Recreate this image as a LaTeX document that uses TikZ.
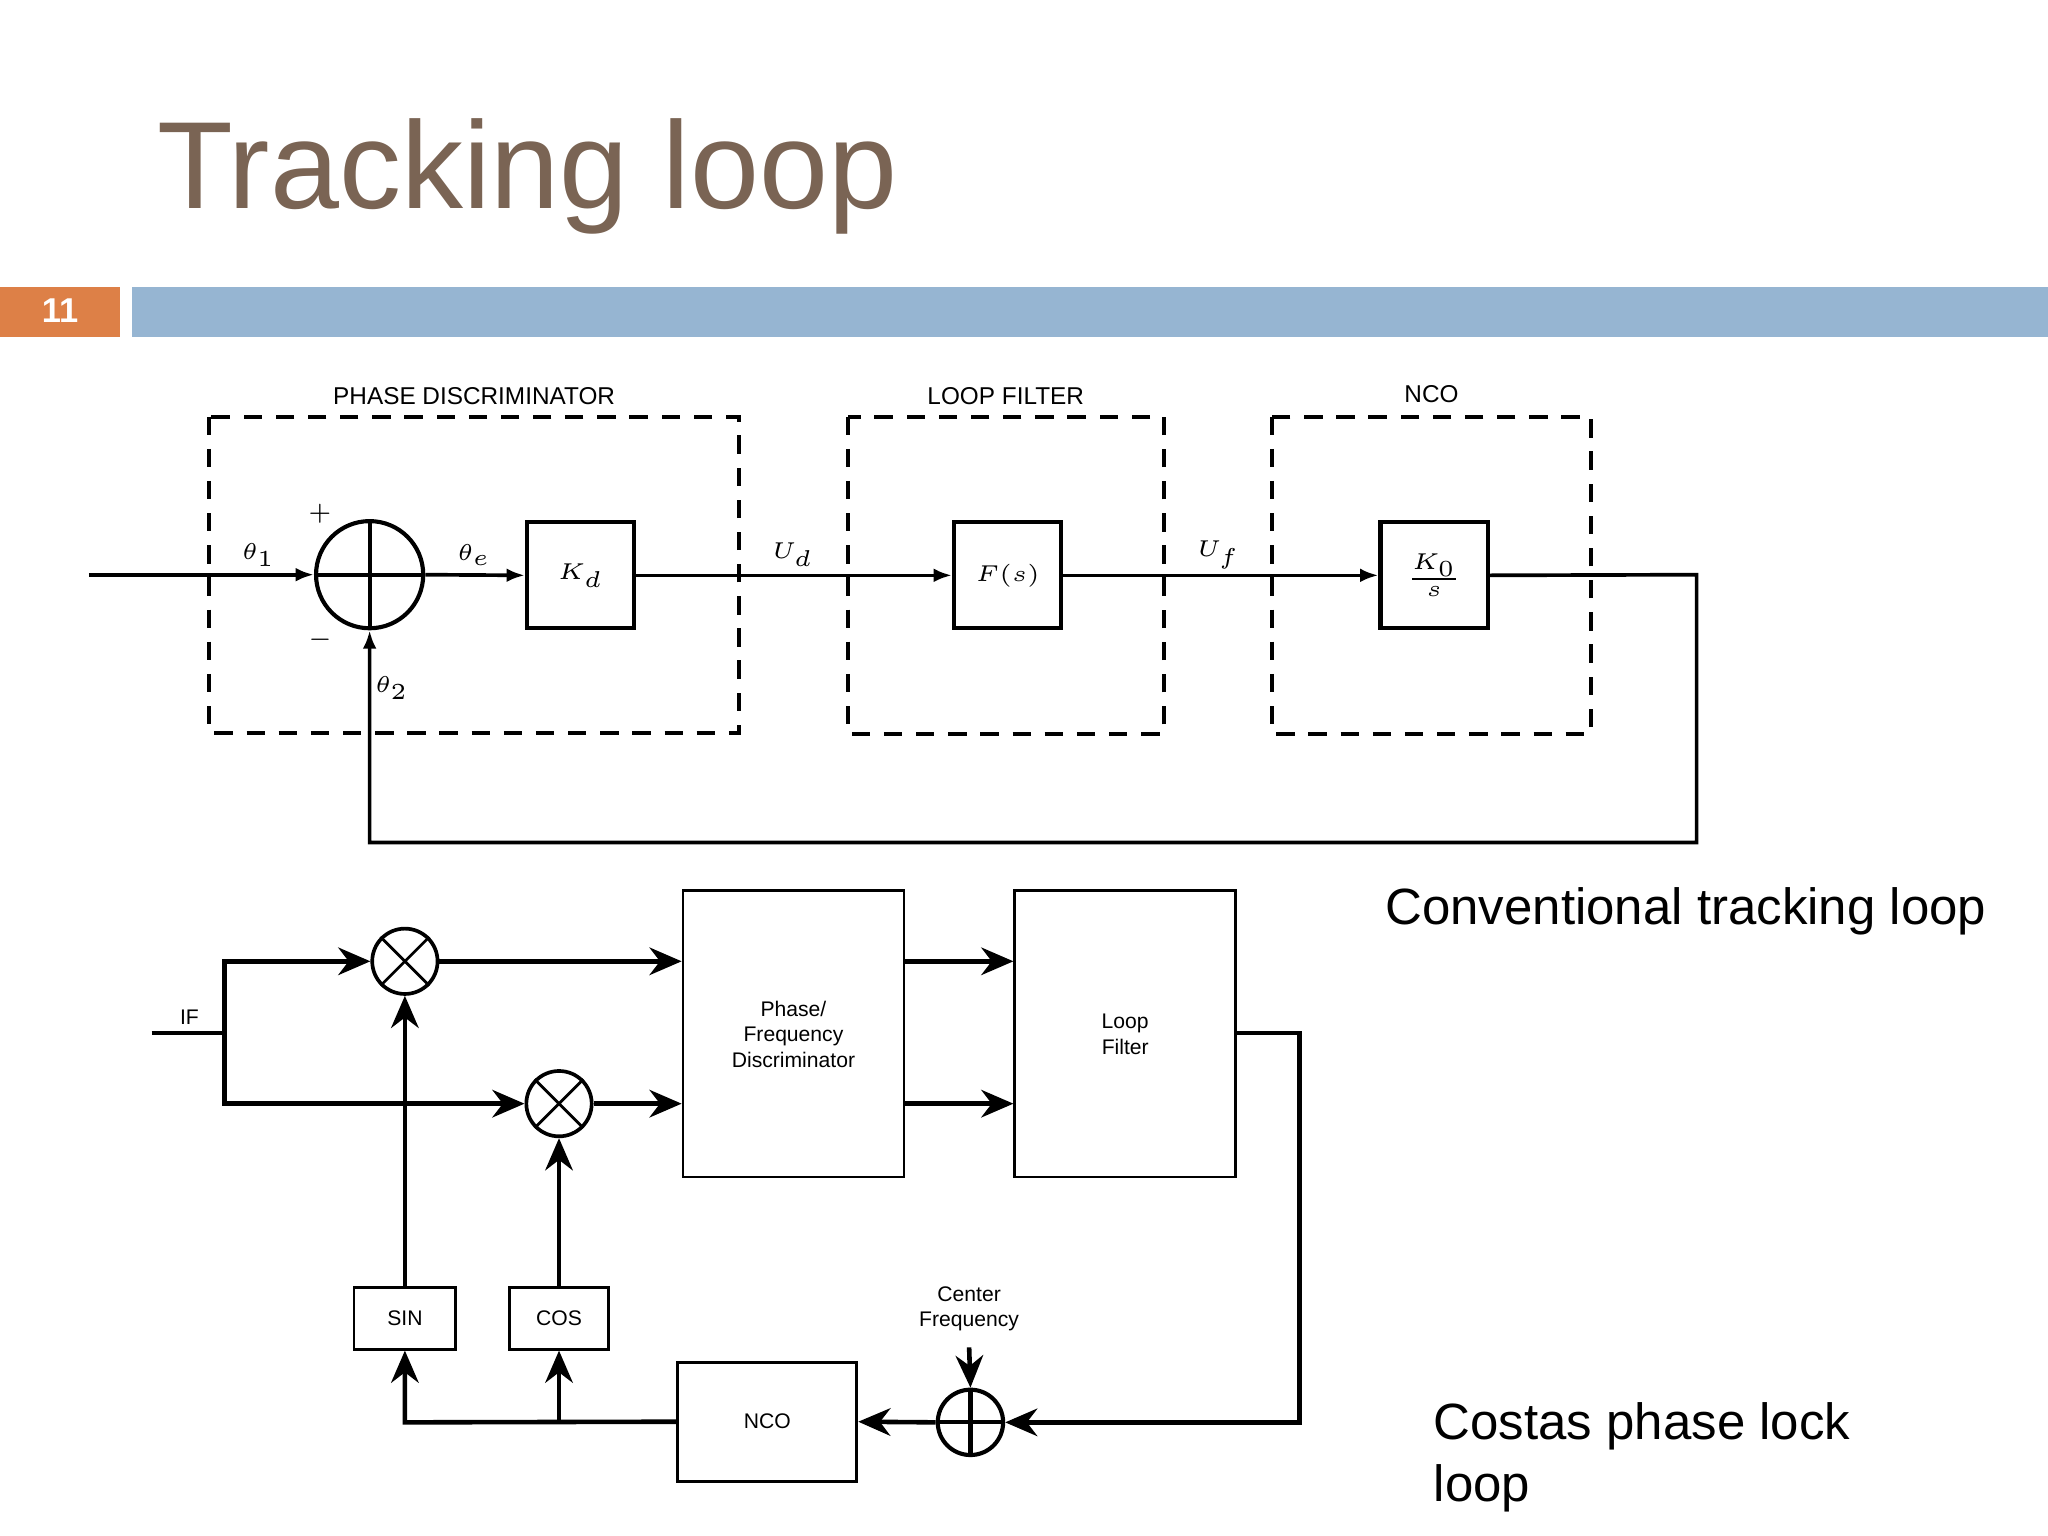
\documentclass[tikz,border=0pt]{standalone}
\usepackage{fontspec}
\setmainfont{Liberation Sans}
\usetikzlibrary{arrows.meta}
\definecolor{titlec}{RGB}{122,100,84}
\definecolor{barblue}{RGB}{150,181,210}
\definecolor{barorange}{RGB}{221,128,71}
\begin{document}
\begin{tikzpicture}[x=0.01cm,y=-0.01cm,
  sm/.style={font=\fontsize{5.3}{6.2}\selectfont},
  ss/.style={font=\fontsize{4.6}{5.6}\selectfont},
  mt/.style={font=\fontsize{4.8}{5.5}\selectfont},
  blk/.style={draw,line width=0.9pt,minimum width=0.82cm,minimum height=0.81cm,inner sep=0,font=\fontsize{5.5}{6}\selectfont},
  dbox/.style={draw,line width=0.9pt,dash pattern=on 4pt off 3pt},
  ln/.style={line width=0.8pt},
  ar/.style={ln,-{Latex[length=4pt,width=3pt]}},
  br/.style={line width=1pt,-{Stealth[length=7pt,width=6pt]}},
  big/.style={font=\fontsize{11.1}{13.5}\selectfont,anchor=base west,inner sep=0},
  bx/.style={draw,line width=0.6pt,inner sep=0}]
\useasboundingbox (0,0) rectangle (1568,1176);
% title and bars
\node[anchor=base west,inner sep=0,text=titlec,font=\fontsize{27}{30}\selectfont] (title) at (120,160) {Tracking loop};
\fill[barorange] (0,220) rectangle (92,258);
\node[text=white,font=\bfseries\fontsize{7.5}{9}\selectfont] (num) at (46,238) {11};
\fill[barblue] (101,220) rectangle (1568,258);
% top diagram
\draw[dbox] (160,319) rectangle (566,561);
\draw[dbox] (649,319) rectangle (891,562);
\draw[dbox] (974,319) rectangle (1218,562);
\node[sm] (lpd) at (363,303) {PHASE DISCRIMINATOR};
\node[sm] (llf) at (770,303) {LOOP FILTER};
\node[sm] (lnco) at (1096,302) {NCO};
\node[draw,circle,line width=0.9pt,minimum size=0.82cm,inner sep=0] (sum) at (283,440) {};
\draw[line width=0.9pt] (sum.north) -- (sum.south) (sum.west) -- (sum.east);
\coordinate (in) at (68,440);
\node[blk] (kd) at (444.5,440.5) {$K_d$};
\node[blk] (fs) at (771.5,440.5) {$F(s)$};
\node[blk] (ko) at (1098,440.5) {$\frac{K_0}{s}$};
\draw[ar] (in) -- (sum.west);
\draw[ar] (sum.east) -- (kd.west);
\draw[ar] (kd.east) -- (fs.west);
\draw[ar] (fs.east) -- (ko.west);
\coordinate (c1) at (1299,440);
\coordinate (c2) at (1299,645);
\coordinate (c3) at (283,645);
\draw[ar] (ko.east) -- (c1) -- (c2) -- (c3) -- (sum.south);
\node[mt] (plus) at (245,393) {$+$};
\node[mt] (minus) at (245,490) {$-$};
\node[mt] (t1) at (198,425) {$\theta_1$};
\node[mt] (te) at (363,425) {$\theta_e$};
\node[mt] (t2) at (300,527) {$\theta_2$};
\node[mt] (ud) at (607,425) {$U_d$};
\node[mt] (uf) at (933,425) {$U_f$};
\node[big] (conv) at (1060,708) {Conventional tracking loop};
% bottom diagram
\node[draw,circle,line width=0.8pt,minimum size=0.5cm,inner sep=0] (m1) at (310,736) {};
\node[draw,circle,line width=0.8pt,minimum size=0.5cm,inner sep=0] (m2) at (428,845) {};
\draw[line width=0.6pt] (m1.north west)--(m1.south east) (m1.north east)--(m1.south west);
\draw[line width=0.6pt] (m2.north west)--(m2.south east) (m2.north east)--(m2.south west);
\node[bx,minimum width=1.69cm,minimum height=2.19cm] (pfd) at (607.5,791.5) {};
\node[ss,align=center] (pfdt) at (607.5,792) {Phase/\\Frequency\\Discriminator};
\node[bx,minimum width=1.69cm,minimum height=2.19cm] (lf) at (861.5,791.5) {};
\node[ss,align=center] (lft) at (861.5,792) {Loop\\Filter};
\node[bx,minimum width=0.78cm,minimum height=0.47cm,ss] (sin) at (310,1009.5) {SIN};
\node[bx,minimum width=0.76cm,minimum height=0.47cm,ss] (cos) at (428,1009.5) {COS};
\node[bx,minimum width=1.37cm,minimum height=0.91cm,ss] (nco) at (587.5,1088.5) {NCO};
\node[draw,circle,line width=0.9pt,minimum size=0.5cm,inner sep=0] (s2) at (743,1089) {};
\draw[line width=0.9pt] (s2.north) -- (s2.south) (s2.west) -- (s2.east);
\node[ss,align=center] (cf) at (742,1002) {Center\\Frequency};
\node[ss] (if) at (145,779) {IF};
\coordinate (ifa) at (116,791);
\coordinate (ifb) at (172,791);
\coordinate (ift) at (172,736);
\coordinate (ifl) at (172,845);
\draw[ln] (ifa) -- (ifb);
\draw[br] (ifb) -- (ift) -- (m1.west);
\draw[br] (ifb) -- (ifl) -- (m2.west);
\draw[br] (m1.east) -- (pfd.west |- m1.east);
\draw[br] (m2.east) -- (pfd.west |- m2.east);
\draw[br] (pfd.east |- m1.east) -- (lf.west |- m1.east);
\draw[br] (pfd.east |- m2.east) -- (lf.west |- m2.east);
\coordinate (o1) at (995,791);
\coordinate (o2) at (995,1089);
\draw[br] (lf.east |- o1) -- (o1) -- (o2) -- (s2.east);
\draw[br] (cf.south) -- (s2.north);
\draw[br] (s2.west) -- (nco.east);
\coordinate (n1) at (310,1089);
\coordinate (n2) at (428,1089);
\draw[br] (nco.west) -- (n1) -- (sin.south);
\draw[br] (n2) -- (cos.south);
\draw[br] (sin.north) -- (m1.south);
\draw[br] (cos.north) -- (m2.south);
\node[big,align=left,anchor=north west] (cost) at (1097,1073) {Costas phase lock\\loop};
\end{tikzpicture}
\end{document}
